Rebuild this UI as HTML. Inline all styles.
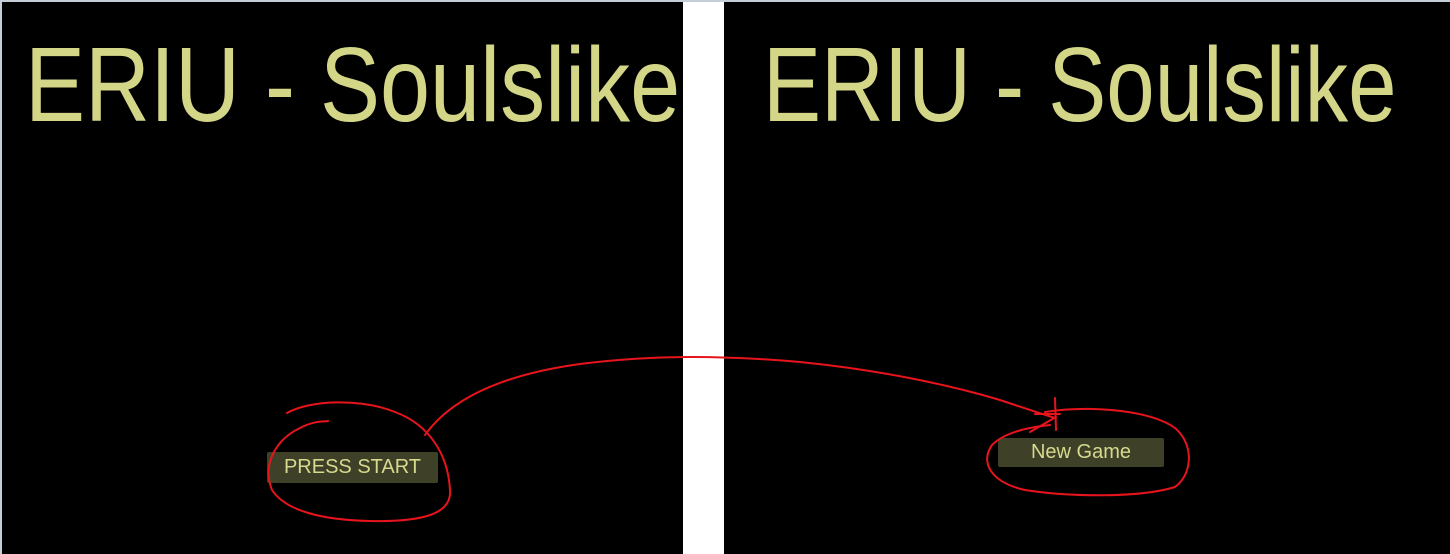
<!DOCTYPE html>
<html><head><meta charset="utf-8"><style>
html,body{margin:0;padding:0;width:1450px;height:554px;overflow:hidden;background:#fff}
.panel{position:absolute;top:2px;height:552px;background:#000}
.title{position:absolute;font-family:"Liberation Sans",sans-serif;color:#d3d587;font-size:106px;line-height:1;white-space:nowrap;transform-origin:0 0;transform:scaleX(0.849)}
.btn{position:absolute;background:#3e4127;color:#d6d98e;font-family:"Liberation Sans",sans-serif;font-size:20px;display:flex;align-items:center;justify-content:center;border-radius:2px}
</style></head><body>
<div style="position:absolute;left:0;top:0;width:1450px;height:2px;background:#c5cdd8"></div>
<div class="panel" style="left:0;width:683px"></div>
<div style="position:absolute;left:0;top:0;width:2px;height:554px;background:#c5cdd8"></div>
<div class="panel" style="left:724px;width:726px"></div>
<div class="title" style="left:25px;top:32px">ERIU - Soulslike</div>
<div class="title" style="left:763px;top:32px;transform:scaleX(0.821)">ERIU - Soulslike</div>
<div class="btn" style="left:267px;top:452px;width:171px;height:31px">PRESS START</div>
<div class="btn" style="left:998px;top:438px;width:166px;height:29px">New Game</div>
<svg width="1450" height="554" style="position:absolute;left:0;top:0" fill="none" stroke="#e8141c" stroke-width="2" stroke-linecap="round">
<path d="M287,413 C310,400 360,398 395,412 C430,425 448,455 450,490 C452,515 420,522 370,521 C320,520 285,510 272,490 C262,465 275,440 300,428 C315,420 325,422 328,421"/>
<path d="M425,435 C450,400 500,375 580,364 C650,355 720,355 800,362 C880,370 950,385 1000,400 C1030,410 1045,415 1055,418"/>
<path d="M1055,398 L1056,430 M1035,414 L1060,414 M1030,432 L1056,417"/>
<path d="M1045,412 C1090,405 1150,410 1175,428 C1195,445 1192,475 1175,487 C1140,498 1070,497 1025,490 C990,482 980,462 992,445 C1005,432 1030,427 1050,425"/>
</svg>
</body></html>
